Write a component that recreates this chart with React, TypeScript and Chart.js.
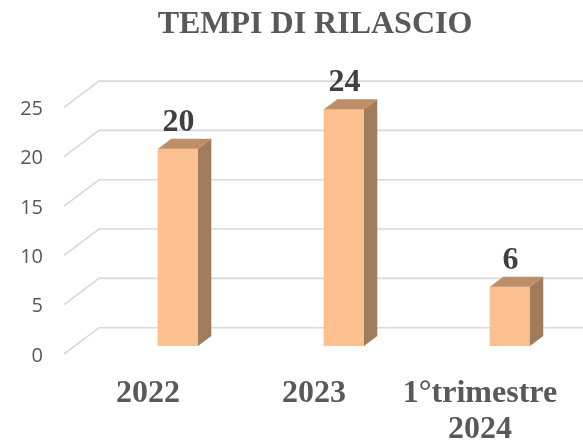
import React, { useEffect, useRef } from "react";
import { Chart, registerables } from "chart.js";

Chart.register(...registerables);

const categories = ["2022", "2023", ["1°trimestre", "2024"]];
const values = [20, 24, 6];
const yTicks = [0, 5, 10, 15, 20, 25];

const SERIF = "'Liberation Serif', serif";
const SANS = "'Open Sans', sans-serif";
const DX = 13.3;
const DY = 10;
const TICK_DROP = 8;
const GRID_LEFT = 64;
const GRID_BACK = 99;
const GRID_BACK_RISE = 18.3;

const scene = {
  id: "scene",
  beforeDraw(chart: any) {
    chart.scales.y.left = 0;
  },
  beforeDatasetsDraw(chart: any) {
    const { ctx, scales } = chart;
    const y = scales.y;
    ctx.save();
    ctx.strokeStyle = "#d9d9d9";
    ctx.lineWidth = 1.6;
    yTicks.forEach((t) => {
      const p = y.getPixelForValue(t);
      ctx.beginPath();
      ctx.moveTo(GRID_LEFT, p + TICK_DROP);
      ctx.lineTo(GRID_BACK, p - GRID_BACK_RISE);
      ctx.lineTo(chart.width, p - GRID_BACK_RISE);
      ctx.stroke();
    });
    ctx.restore();
  },
  afterDatasetsDraw(chart: any) {
    const { ctx } = chart;
    const bars = chart.getDatasetMeta(0).data;
    ctx.save();
    bars.forEach((b: any, i: number) => {
      const w = b.width / 2;
      const l = b.x - w;
      const r = b.x + w;
      ctx.fillStyle = "#bc8e6a";
      ctx.beginPath();
      ctx.moveTo(l, b.y);
      ctx.lineTo(l + DX, b.y - DY);
      ctx.lineTo(r + DX, b.y - DY);
      ctx.lineTo(r, b.y);
      ctx.closePath();
      ctx.fill();
      ctx.fillStyle = "#a17c5c";
      ctx.beginPath();
      ctx.moveTo(r, b.y);
      ctx.lineTo(r + DX, b.y - DY);
      ctx.lineTo(r + DX, b.base - DY);
      ctx.lineTo(r, b.base);
      ctx.closePath();
      ctx.fill();
      ctx.fillStyle = "#404040";
      ctx.font = `bold 32px ${SERIF}`;
      ctx.textAlign = "center";
      ctx.textBaseline = "alphabetic";
      ctx.fillText(String(values[i]), b.x + 0.5, b.y - 18);
    });
    ctx.restore();
  },
};

export default function App() {
  const ref = useRef<HTMLCanvasElement>(null);
  useEffect(() => {
    const chart = new Chart(ref.current!, {
      type: "bar",
      data: {
        datasets: [
          {
            data: values.map((v, i) => ({ x: i, y: v })),
            backgroundColor: "#fac090",
            barThickness: 40,
          },
        ],
      },
      options: {
        animation: false,
        responsive: false,
        layout: { padding: { left: 47, right: 0, top: 0, bottom: 0 } },
        plugins: {
          legend: { display: false },
          tooltip: { enabled: false },
          title: {
            display: true,
            text: "TEMPI DI RILASCIO",
            color: "#595959",
            font: { family: SERIF, size: 32, weight: "bold" },
            padding: { top: 5.5, bottom: 55.5 },
          },
        },
        scales: {
          x: {
            type: "linear",
            offset: false,
            min: -0.5,
            max: 2.44,
            afterBuildTicks: (s: any) => {
              s.ticks = categories.map((_, value) => ({ value }));
            },
            afterFit: (s: any) => {
              s.height = 94;
              s.paddingLeft = 0;
              s.paddingRight = 0;
            },
            grid: { display: false, drawTicks: false },
            border: { display: false },
            ticks: {
              autoSkip: false,
              maxRotation: 0,
              minRotation: 0,
              color: "#595959",
              padding: 30,
              labelOffset: -30,
              font: { family: SERIF, size: 32, weight: "bold", lineHeight: 1.125 },
              callback: (v: any) => categories[v],
            },
          },
          y: {
            min: 0,
            max: 25,
            afterFit: (s: any) => {
              s.width = 48;
              s.paddingTop = 0;
              s.paddingBottom = 0;
            },
            afterBuildTicks: (s: any) => {
              s.ticks = yTicks.map((value) => ({ value }));
            },
            grid: { display: false, drawTicks: false },
            border: { display: false },
            ticks: {
              color: "#595959",
              padding: 52,
              labelOffset: 10,
              font: { family: SANS, size: 20 },
            },
          },
        },
      } as any,
      plugins: [scene],
    });
    return () => chart.destroy();
  }, []);
  return (
    <div style={{ position: "fixed", left: 0, top: 0 }}>
      <canvas ref={ref} width={583} height={440} style={{ display: "block" }} />
    </div>
  );
}
